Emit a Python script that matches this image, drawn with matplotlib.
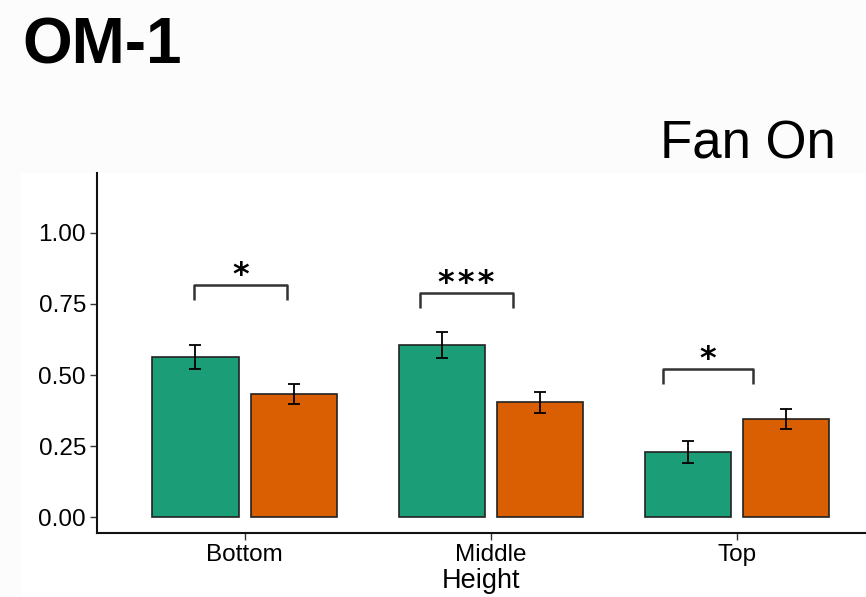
import matplotlib
matplotlib.use("Agg")
import matplotlib.pyplot as plt
from matplotlib.patches import Rectangle
import numpy as np

plt.rcParams['font.family'] = ['Liberation Sans', 'DejaVu Sans']

categories = ["Bottom", "Middle", "Top"]
series_a = [0.563, 0.606, 0.229]
series_a_err = [0.042, 0.047, 0.038]
series_b = [0.433, 0.405, 0.345]
series_b_err = [0.035, 0.037, 0.035]
colors = ["#1B9E77", "#D95F02"]

# significance brackets: (x_left, x_right, y_top, label)
brackets_x0 = [0.793, 1.711, 2.699]
brackets_x1 = [1.171, 2.089, 3.065]
brackets_y = [0.817, 0.789, 0.521]
brackets_label = ["*", "***", "*"]
yticks = [0.00, 0.25, 0.50, 0.75, 1.00]

fig = plt.figure(figsize=(8.66, 5.97), dpi=100)
fig.patch.set_facecolor("#fcfcfc")
fig.add_artist(Rectangle((21/866, 0), 1, 1 - 173/597, transform=fig.transFigure,
                         facecolor="white", edgecolor="none", zorder=0))

ax = fig.add_axes([97/866, 1 - 533/597, 1 - 97/866, (533-173)/597])
ax.set_facecolor("white")
x = np.arange(1, len(categories) + 1)
w = 0.35
off = 0.2
ax.bar(x - off, series_a, width=w, color=colors[0], edgecolor="#222222", linewidth=1.2, zorder=2)
ax.bar(x + off, series_b, width=w, color=colors[1], edgecolor="#222222", linewidth=1.2, zorder=2)
ax.errorbar(x - off, series_a, yerr=series_a_err, fmt="none", ecolor="black", elinewidth=1.3, capsize=4.5, capthick=1.3, zorder=3)
ax.errorbar(x + off, series_b, yerr=series_b_err, fmt="none", ecolor="black", elinewidth=1.3, capsize=4.5, capthick=1.3, zorder=3)

leg = 0.053
for x0, x1, yb, lab in zip(brackets_x0, brackets_x1, brackets_y, brackets_label):
    ax.plot([x0, x0, x1, x1], [yb - leg, yb, yb, yb - leg], color="#333333", lw=1.8,
            solid_joinstyle="round", solid_capstyle="butt", zorder=3)
    ax.text((x0 + x1) / 2, yb + 0.002, "\u200a".join(lab),
            ha="center", va="baseline", fontsize=23,
            fontweight="bold", family="DejaVu Sans", color="black")

ax.set_xlim(0.40, 3.524)
ax.set_ylim(-0.056, 1.211)
ax.set_xticks(x)
ax.set_xticklabels(categories, fontsize=17.5)
ax.set_yticks(yticks)
ax.set_yticklabels([f"{v:.2f}" for v in yticks], fontsize=17.5)
ax.tick_params(axis="both", length=5, width=1, color="#333333", pad=3)
for s in ["top", "right"]:
    ax.spines[s].set_visible(False)
for s in ["left", "bottom"]:
    ax.spines[s].set_linewidth(1.5)
    ax.spines[s].set_color("#111111")
ax.set_xlabel("Height", fontsize=19.5, labelpad=1)

fig.text(22/866, 1 - 64/597, "OM-1", fontsize=46, fontweight="bold", ha="left", va="baseline")
fig.text(836/866, 1 - 159/597, "Fan On", fontsize=38, ha="right", va="baseline")

fig.savefig("out.png", dpi=100, facecolor=fig.get_facecolor())
